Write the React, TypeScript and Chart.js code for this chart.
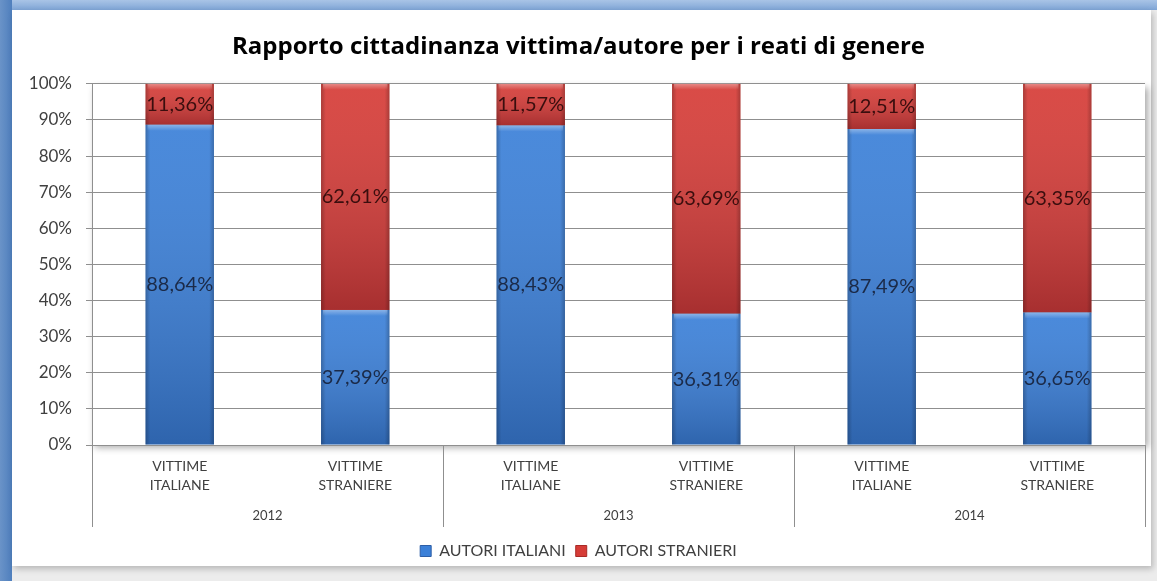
import React, { useEffect, useRef } from "react";
import { Chart, registerables } from "chart.js";

Chart.register(...registerables);

const categories: string[][] = [
  ["VITTIME", "ITALIANE"],
  ["VITTIME", "STRANIERE"],
  ["VITTIME", "ITALIANE"],
  ["VITTIME", "STRANIERE"],
  ["VITTIME", "ITALIANE"],
  ["VITTIME", "STRANIERE"],
];
const years = ["2012", "2013", "2014"];
const autoriItaliani = [88.64, 37.39, 88.43, 36.31, 87.49, 36.65];
const autoriStranieri = [11.36, 62.61, 11.57, 63.69, 12.51, 63.35];
const seriesNames = ["AUTORI ITALIANI", "AUTORI STRANIERI"];
const titleText = "Rapporto cittadinanza vittima/autore per i reati di genere";

const FONT = "Lato, 'Open Sans', sans-serif";
const TITLE_FONT = "'Open Sans', Lato, sans-serif";
const BLUE = "#3b80d8";
const RED = "#d63c37";
const TEXT = "#404040";
const GRID = "#8f8f8f";

const fmt = (v: number) => v.toFixed(2).replace(".", ",") + "%";

const plotShadow = {
  id: "plotShadow",
  beforeDraw(chart: any) {
    const { ctx, chartArea: a } = chart;
    ctx.save();
    ctx.shadowColor = "rgba(0,0,0,0.35)";
    ctx.shadowBlur = 7;
    ctx.shadowOffsetX = 3;
    ctx.shadowOffsetY = 3;
    ctx.fillStyle = "#ffffff";
    ctx.fillRect(a.left, a.top, a.right - a.left, a.bottom - a.top);
    ctx.restore();
  },
};

const barDecor = {
  id: "barDecor",
  afterDatasetsDraw(chart: any) {
    const { ctx } = chart;
    chart.data.datasets.forEach((ds: any, di: number) => {
      const meta = chart.getDatasetMeta(di);
      meta.data.forEach((el: any, i: number) => {
        const { x, y, base, width } = el.getProps(["x", "y", "base", "width"], true);
        const left = x - width / 2;
        const top = Math.min(y, base);
        const h = Math.abs(base - y);
        ctx.save();
        const vg = ctx.createLinearGradient(0, top, 0, top + h);
        vg.addColorStop(0, "rgba(255,255,255,0.08)");
        vg.addColorStop(1, "rgba(0,0,20,0.22)");
        ctx.fillStyle = vg;
        ctx.fillRect(left, top, width, h);
        const hg = ctx.createLinearGradient(left, 0, left + width, 0);
        hg.addColorStop(0, "rgba(0,0,0,0.22)");
        hg.addColorStop(0.07, "rgba(0,0,0,0)");
        hg.addColorStop(0.93, "rgba(0,0,0,0)");
        hg.addColorStop(1, "rgba(0,0,0,0.22)");
        ctx.fillStyle = hg;
        ctx.fillRect(left, top, width, h);
        const tg = ctx.createLinearGradient(0, top, 0, top + 6);
        tg.addColorStop(0, "rgba(255,255,255,0.35)");
        tg.addColorStop(1, "rgba(255,255,255,0)");
        ctx.fillStyle = tg;
        ctx.fillRect(left + 2, top, width - 4, Math.min(6, h));
        ctx.restore();

        ctx.save();
        ctx.font = `20px ${FONT}`;
        ctx.fillStyle = di === 0 ? "#1b2a48" : "#3a0e0e";
        ctx.textAlign = "center";
        ctx.textBaseline = "middle";
        ctx.fillText(fmt(ds.data[i]), x, top + h / 2);
        ctx.restore();
      });
    });
  },
};

const groupAxis = {
  id: "groupAxis",
  afterDraw(chart: any) {
    const { ctx, chartArea: a } = chart;
    const xs = chart.scales.x;
    const lineBottom = a.bottom + 82;
    ctx.save();
    ctx.strokeStyle = GRID;
    ctx.lineWidth = 1;
    const per = categories.length / years.length;
    const bounds: number[] = [a.left];
    for (let g = 1; g < years.length; g++) {
      const i = g * per;
      bounds.push((xs.getPixelForValue(i - 1) + xs.getPixelForValue(i)) / 2);
    }
    bounds.push(a.right);
    bounds.forEach((bx) => {
      const px = Math.round(bx) + 0.5;
      ctx.beginPath();
      ctx.moveTo(px, a.bottom);
      ctx.lineTo(px, lineBottom);
      ctx.stroke();
    });
    ctx.font = `13px ${FONT}`;
    ctx.fillStyle = TEXT;
    ctx.textAlign = "center";
    ctx.textBaseline = "middle";
    years.forEach((yr, g) => {
      ctx.fillText(yr, (bounds[g] + bounds[g + 1]) / 2, a.bottom + 71);
    });
    ctx.restore();
  },
};

export default function App() {
  const ref = useRef<HTMLCanvasElement | null>(null);

  useEffect(() => {
    if (!ref.current) return;
    const chart = new Chart(ref.current, {
      type: "bar",
      data: {
        labels: categories,
        datasets: [
          { label: seriesNames[0], data: autoriItaliani, backgroundColor: BLUE, borderWidth: 0 },
          { label: seriesNames[1], data: autoriStranieri, backgroundColor: RED, borderWidth: 0 },
        ],
      },
      options: {
        responsive: false,
        animation: false,
        devicePixelRatio: 1,
        layout: { padding: { left: 12, right: 12, top: 0, bottom: 12 } },
        datasets: {
          bar: { categoryPercentage: 1, barPercentage: 0.39 },
        },
        scales: {
          x: {
            stacked: true,
            grid: { display: false, drawTicks: false },
            border: { display: false },
            ticks: {
              color: TEXT,
              font: { family: FONT, size: 14, lineHeight: 1.38 },
              padding: 12,
              maxRotation: 0,
              autoSkip: false,
            },
            afterFit: (s: any) => {
              s.height = 88;
            },
          },
          y: {
            stacked: true,
            min: 0,
            max: 100,
            grid: { color: GRID, tickLength: 6, lineWidth: 1 },
            border: { color: GRID },
            ticks: {
              stepSize: 10,
              color: TEXT,
              font: { family: FONT, size: 17 },
              padding: 14,
              callback: (v: any) => v + "%",
            },
            afterFit: (s: any) => {
              s.width = 80;
            },
          },
        },
        plugins: {
          title: {
            display: true,
            text: titleText,
            color: "#000000",
            font: { family: TITLE_FONT, size: 24, weight: "bold" },
            padding: { top: 33, bottom: 22 },
          },
          legend: {
            position: "bottom",
            labels: {
              color: TEXT,
              font: { family: FONT, size: 16 },
              boxWidth: 11,
              boxHeight: 11,
              padding: 10,
              generateLabels: () =>
                seriesNames.map((n, i) => ({
                  text: n,
                  fillStyle: i === 0 ? BLUE : RED,
                  strokeStyle: i === 0 ? "#2d5ea6" : "#a82a26",
                  lineWidth: 1,
                  datasetIndex: i,
                  hidden: false,
                  fontColor: TEXT,
                })),
            },
          },
          tooltip: { enabled: false },
        },
      },
      plugins: [plotShadow, barDecor, groupAxis],
    } as any);
    return () => chart.destroy();
  }, []);

  return (
    <div
      style={{
        position: "fixed",
        left: 0,
        top: 0,
        width: 1157,
        height: 581,
        background: "#ececec",
        overflow: "hidden",
      }}
    >
      <div
        style={{
          position: "absolute",
          left: 0,
          top: 0,
          width: 1157,
          height: 10,
          background: "linear-gradient(#a9c4e6, #7fa5d6)",
        }}
      />
      <div
        style={{
          position: "absolute",
          left: 0,
          top: 0,
          width: 12,
          height: 581,
          background: "linear-gradient(90deg, #6a93c8, #4f7fbd)",
        }}
      />
      <div
        style={{
          position: "absolute",
          left: 12,
          top: 10,
          width: 1139,
          height: 556,
          background: "#ffffff",
          boxShadow: "2px 3px 6px rgba(0,0,0,0.22)",
        }}
      />
      <canvas
        ref={ref}
        width={1157}
        height={581}
        style={{ position: "absolute", left: 0, top: 0, width: 1157, height: 581 }}
      />
    </div>
  );
}
